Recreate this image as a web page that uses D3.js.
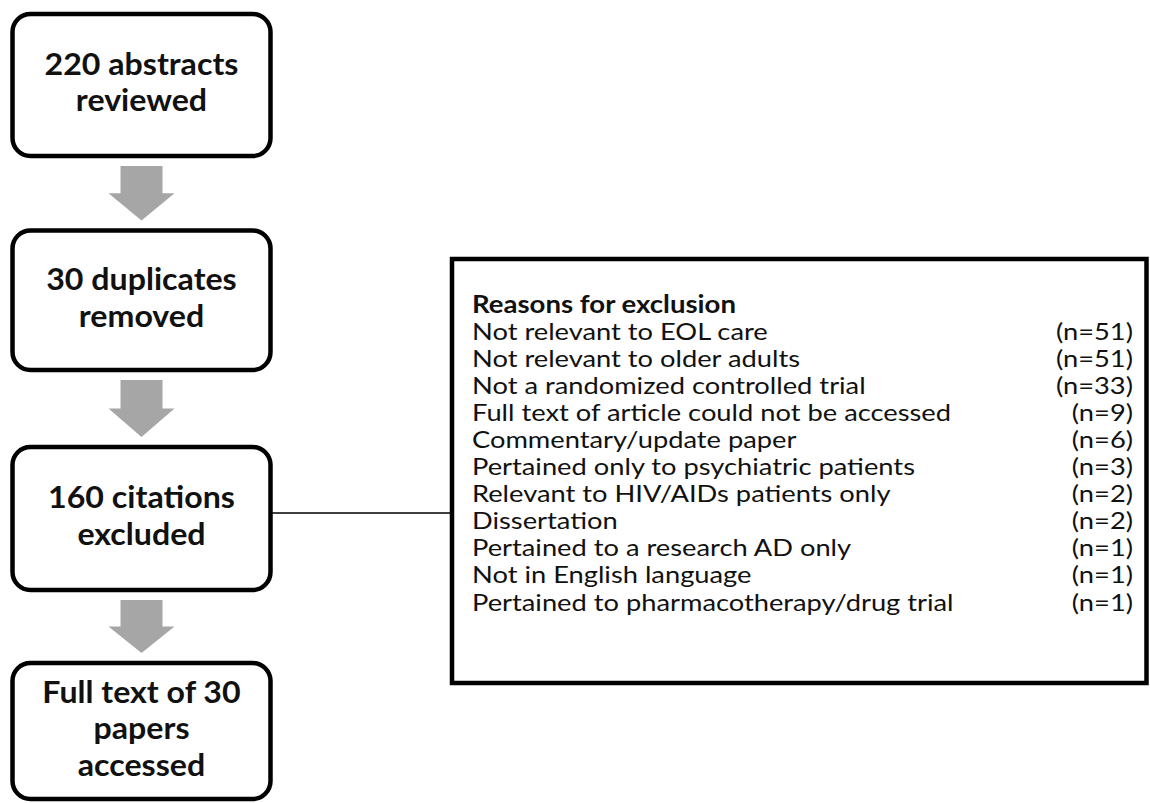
<!DOCTYPE html>
<html>
<head>
<meta charset="utf-8">
<script src="https://cdn.jsdelivr.net/npm/d3@7"></script>
<style>
  html, body { margin: 0; padding: 0; background: #fff; }
  svg { display: block; }
</style>
</head>
<body>
<svg id="chart" width="1150" height="803"></svg>
<script>
// ---- data ----
const stepLines = [
  ["220 abstracts", "reviewed"],
  ["30 duplicates", "removed"],
  ["160 citations", "excluded"],
  ["Full text of 30", "papers", "accessed"]
];
const reasonsTitle = "Reasons for exclusion";
const reasonLabels = [
  "Not relevant to EOL care",
  "Not relevant to older adults",
  "Not a randomized controlled trial",
  "Full text of article could not be accessed",
  "Commentary/update paper",
  "Pertained only to psychiatric patients",
  "Relevant to HIV/AIDs patients only",
  "Dissertation",
  "Pertained to a research AD only",
  "Not in English language",
  "Pertained to pharmacotherapy/drug trial"
];
const reasonCounts = [51, 51, 33, 9, 6, 3, 2, 2, 1, 1, 1];

// ---- layout ----
const svg = d3.select("#chart");
const boxX0 = 12.5, boxX1 = 270.5;
const boxCx = (boxX0 + boxX1) / 2;
const boxEdges = [[14, 156], [230.5, 370], [447, 590], [663, 799]];
const boxIdx = d3.range(stepLines.length);
const yTop = d3.scaleOrdinal().domain(boxIdx).range(boxEdges.map(d => d[0]));
const yBot = d3.scaleOrdinal().domain(boxIdx).range(boxEdges.map(d => d[1]));

// arrows
const arrowG = svg.append("g");
d3.range(stepLines.length - 1).forEach(i => {
  const top = yBot(i) + 10, tip = yTop(i + 1) - 10;
  const headStart = top + (tip - top) * 0.5;
  const sw = 21, hw = 33;
  const p = d3.path();
  p.moveTo(boxCx - sw, top);
  p.lineTo(boxCx + sw, top);
  p.lineTo(boxCx + sw, headStart);
  p.lineTo(boxCx + hw, headStart);
  p.lineTo(boxCx, tip);
  p.lineTo(boxCx - hw, headStart);
  p.lineTo(boxCx - sw, headStart);
  p.closePath();
  arrowG.append("path").attr("d", p.toString()).attr("fill", "#a6a6a6");
});

// connector line from box 3 to reasons box
const rbX0 = 452, rbX1 = 1146.5, rbY0 = 259, rbY1 = 683;
svg.append("line")
  .attr("x1", boxX1).attr("x2", rbX0)
  .attr("y1", 513).attr("y2", 513)
  .attr("stroke", "#000").attr("stroke-width", 1.6);

// step boxes
const boxes = svg.append("g").selectAll("g").data(stepLines).join("g");
boxes.append("rect")
  .attr("x", boxX0).attr("width", boxX1 - boxX0)
  .attr("y", (d, i) => yTop(i)).attr("height", (d, i) => yBot(i) - yTop(i))
  .attr("rx", 18).attr("ry", 18)
  .attr("fill", "#fff").attr("stroke", "#000").attr("stroke-width", 4.5);

const lineGap = 36.5;
const boldFont = "Lato, 'Open Sans', sans-serif";
boxes.each(function(lines, i) {
  const g = d3.select(this);
  const cy = (yTop(i) + yBot(i)) / 2 + 8;
  lines.forEach((t, j) => {
    g.append("text")
      .attr("class", "steptext")
      .attr("x", boxCx)
      .attr("y", cy + (j - (lines.length - 1) / 2) * lineGap)
      .attr("text-anchor", "middle")
      .attr("font-family", boldFont)
      .attr("font-weight", 700)
      .attr("font-size", 31)
      .attr("fill", "#111")
      .text(t);
  });
});

// reasons box
svg.append("rect")
  .attr("x", rbX0).attr("y", rbY0)
  .attr("width", rbX1 - rbX0).attr("height", rbY1 - rbY0)
  .attr("fill", "#fff").attr("stroke", "#000").attr("stroke-width", 4.5);

const rows = [reasonsTitle].concat(reasonLabels);
const yRow = d3.scalePoint().domain(d3.range(rows.length)).range([304, 602]);
const textX = 472, countX = 1133;
const capHalf = 8.5;
const regFont = "Lato, 'Open Sans', sans-serif";
const rowSize = 24;

svg.append("text")
  .attr("class", "rtitle")
  .attr("x", textX).attr("y", yRow(0) + capHalf)
  .attr("font-family", regFont).attr("font-weight", 700).attr("font-size", rowSize)
  .attr("fill", "#111")
  .text(reasonsTitle);

const rg = svg.append("g").selectAll("g").data(reasonLabels).join("g");
rg.append("text")
  .attr("class", "rlabel")
  .attr("x", textX).attr("y", (d, i) => yRow(i + 1) + capHalf)
  .attr("font-family", regFont).attr("font-size", rowSize).attr("fill", "#111")
  .text(d => d);
rg.append("text")
  .attr("class", "rcount")
  .attr("x", countX).attr("y", (d, i) => yRow(i + 1) + capHalf)
  .attr("text-anchor", "end")
  .attr("font-family", regFont).attr("font-size", rowSize).attr("fill", "#111")
  .text((d, i) => "(n=" + reasonCounts[i] + ")");

// width calibration to mimic the narrower original typeface
function calibrate(sel, refText, refWidth) {
  let k = 1;
  sel.each(function() {
    if (this.textContent === refText) k = refWidth / this.getComputedTextLength();
  });
  sel.each(function() {
    const w = this.getComputedTextLength() * k;
    d3.select(this).attr("textLength", w).attr("lengthAdjust", "spacingAndGlyphs");
  });
}
calibrate(svg.selectAll("text.rlabel, text.rcount"), "Full text of article could not be accessed", 479);
calibrate(svg.selectAll("text.steptext"), "220 abstracts", 194);
calibrate(svg.selectAll("text.rtitle"), reasonsTitle, 264);
</script>
</body>
</html>
